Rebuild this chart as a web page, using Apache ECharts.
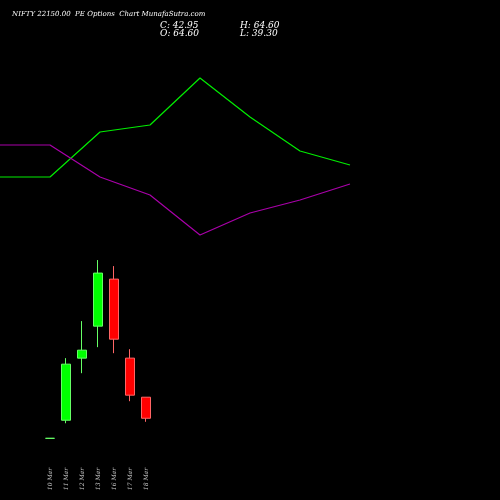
<!DOCTYPE html>
<html>
<head>
<meta charset="utf-8">
<script src="https://cdn.jsdelivr.net/npm/echarts@6/dist/echarts.min.js"></script>
<style>html,body{margin:0;background:#000}#main{width:500px;height:500px}</style>
</head>
<body>
<div id="main"></div>
<script>
// candle days
var days = ['10 Mar', '11 Mar', '12 Mar', '13 Mar', '16 Mar', '17 Mar', '18 Mar'];
// [open, close, low, high]
var candles = [
    [22.3, 22.3, 22.3, 22.3],
    [40.9, 98.6, 37.8, 104.8],
    [104.8, 113.0, 89.3, 142.9],
    [137.7, 192.3, 116.1, 205.7],
    [186.1, 124.3, 109.9, 199.5],
    [104.8, 66.7, 60.5, 114.0],
    [64.6, 42.95, 39.3, 64.6]
];
// indicator lines (relative scale)
var lineSlots = ['a', 'b', 'c', 'd', 'e', 'f', 'g', 'h'];
var greenLine = [323, 323, 368, 375, 422, 383, 349, 335];
var purpleLine = [355, 355, 323, 305, 265, 287, 300, 316];

var chart = echarts.init(document.getElementById('main'));

var option = {
    backgroundColor: '#000',
    animation: false,
    graphic: [
        { type: 'text', left: 12, top: 11, style: { text: 'NIFTY 22150.00  PE Options  Chart MunafaSutra.com', fill: '#fff', font: 'italic 7px "DejaVu Serif"' } },
        { type: 'text', left: 160, top: 21, style: { text: 'C: 42.95', fill: '#fff', font: 'italic 9px "DejaVu Serif"' } },
        { type: 'text', left: 160, top: 29, style: { text: 'O: 64.60', fill: '#fff', font: 'italic 9px "DejaVu Serif"' } },
        { type: 'text', left: 240, top: 21, style: { text: 'H: 64.60', fill: '#fff', font: 'italic 9px "DejaVu Serif"' } },
        { type: 'text', left: 240, top: 29, style: { text: 'L: 39.30', fill: '#fff', font: 'italic 9px "DejaVu Serif"' } }
    ],
    grid: [
        { left: 42, width: 112, top: 217, height: 243 },
        { left: 0, right: 150, top: 0, bottom: 0 }
    ],
    xAxis: [
        {
            type: 'category', data: days, gridIndex: 0, boundaryGap: true,
            axisLine: { show: false }, axisTick: { show: false },
            axisLabel: { rotate: 90, color: '#ccc', fontSize: 6, fontFamily: 'DejaVu Serif', fontStyle: 'italic', margin: 8 }
        },
        {
            type: 'category', data: lineSlots, gridIndex: 1, boundaryGap: false, show: false
        }
    ],
    yAxis: [
        { type: 'value', gridIndex: 0, min: 0, max: 250, show: false },
        { type: 'value', gridIndex: 1, min: 0, max: 500, show: false }
    ],
    series: [
        {
            type: 'candlestick', xAxisIndex: 0, yAxisIndex: 0, data: candles, barWidth: 9,
            itemStyle: { color: '#00ff00', color0: '#ff0000', borderColor: '#66ff66', borderColor0: '#ff6666', borderWidth: 1 }
        },
        {
            type: 'line', xAxisIndex: 1, yAxisIndex: 1, data: greenLine, symbol: 'none',
            lineStyle: { color: '#00ee00', width: 1.2 }
        },
        {
            type: 'line', xAxisIndex: 1, yAxisIndex: 1, data: purpleLine, symbol: 'none',
            lineStyle: { color: '#aa00aa', width: 1.2 }
        }
    ]
};

chart.setOption(option);
</script>
</body>
</html>
